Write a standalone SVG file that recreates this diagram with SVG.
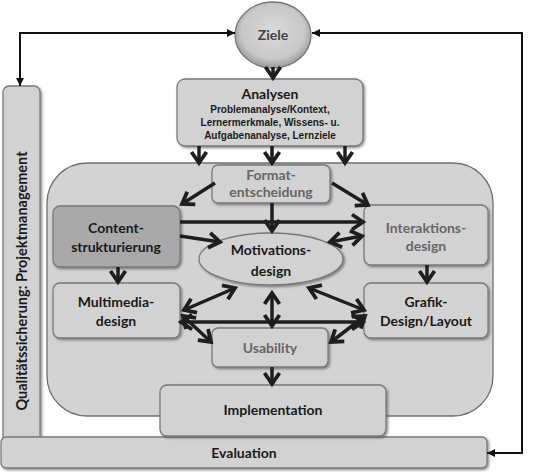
<svg xmlns="http://www.w3.org/2000/svg" width="533" height="472" viewBox="0 0 533 472">
<defs>
<style>
.box{fill:#d2d2d2;stroke:#7a7a7a;stroke-width:1.3;filter:url(#sh)}
.dark{fill:#a9a9a9}
.t{font-family:Lato,"Open Sans","DejaVu Sans",sans-serif;font-weight:bold;font-size:14px;fill:#1a1a1a;text-anchor:middle}
.g{fill:#666}
.s{font-family:"Liberation Sans",Arial,sans-serif;font-weight:bold;font-size:10px;fill:#1a1a1a;text-anchor:middle}
.c{fill:none;stroke:#1e1e1e;stroke-width:3.5;marker-end:url(#ah)}
.d{marker-start:url(#ah)}
.thin{fill:none;stroke:#111;stroke-width:2;marker-start:url(#th);marker-end:url(#th)}
</style>
<filter id="sh" x="-10%" y="-10%" width="125%" height="130%">
<feDropShadow dx="1.5" dy="1.5" stdDeviation="1.2" flood-color="#444" flood-opacity="0.6"/>
</filter>
<radialGradient id="zg" cx="50%" cy="45%" r="55%">
<stop offset="0" stop-color="#dadada"/>
<stop offset="0.75" stop-color="#c8c8c8"/>
<stop offset="1" stop-color="#9a9a9a"/>
</radialGradient>
<marker id="ah" markerUnits="userSpaceOnUse" markerWidth="20" markerHeight="20" refX="14" refY="10" orient="auto-start-reverse">
<path d="M3,2.5 L14,10 L3,17.5" fill="none" stroke="#1e1e1e" stroke-width="3.8" stroke-linejoin="miter"/>
</marker>
<marker id="th" markerUnits="userSpaceOnUse" markerWidth="10" markerHeight="10" refX="8" refY="5" orient="auto-start-reverse">
<path d="M0,1 L8,5 L0,9 Z" fill="#111"/>
</marker>
</defs>
<rect width="533" height="472" fill="#fff"/>

<g id="qualitaet">
<rect class="box" x="3" y="86" width="37" height="356" rx="6"/>
<text class="t" transform="translate(27,281) rotate(-90)" style="font-size:14.5px">Qualitätssicherung: Projektmanagement</text>
</g>
<g id="container">
<rect x="47" y="163" width="446" height="253" rx="40" fill="#d3d3d3" stroke="#707070" stroke-width="1.3"/>
</g>
<g id="evaluation">
<rect class="box" x="1" y="437" width="486" height="31" rx="5"/>
<text class="t" x="244" y="458">Evaluation</text>
</g>
<g id="ziele">
<ellipse cx="273" cy="35" rx="38" ry="33" fill="url(#zg)" stroke="#777" stroke-width="1.3"/>
<text class="t" x="273" y="40" style="fill:#444">Ziele</text>
</g>
<g id="analysen">
<rect class="box" x="177" y="79" width="186" height="67" rx="8"/>
<text class="t" x="270" y="99">Analysen</text>
<text class="s" x="270" y="113">Problemanalyse/Kontext,</text>
<text class="s" x="270" y="126">Lernermerkmale, Wissens- u.</text>
<text class="s" x="270" y="139">Aufgabenanalyse, Lernziele</text>
</g>
<g id="format">
<rect class="box" x="212" y="165" width="118" height="38" rx="6"/>
<text class="t g" x="271" y="180">Format-</text>
<text class="t g" x="271" y="197">entscheidung</text>
</g>
<g id="content">
<rect class="box dark" x="53" y="206" width="127" height="61" rx="7"/>
<text class="t" x="116" y="233">Content-</text>
<text class="t" x="116" y="252">strukturierung</text>
</g>
<g id="interaktion">
<rect class="box" x="364" y="205" width="124" height="60" rx="7"/>
<text class="t g" x="426" y="233">Interaktions-</text>
<text class="t g" x="426" y="251">design</text>
</g>
<g id="motivation">
<ellipse cx="271" cy="259" rx="72" ry="26" fill="#d2d2d2" stroke="#7a7a7a" stroke-width="1.3" filter="url(#sh)"/>
<text class="t" x="271" y="255">Motivations-</text>
<text class="t" x="271" y="276">design</text>
</g>
<g id="multimedia">
<rect class="box" x="53" y="283" width="127" height="55" rx="7"/>
<text class="t" x="116" y="307">Multimedia-</text>
<text class="t" x="116" y="326">design</text>
</g>
<g id="grafik">
<rect class="box" x="364" y="283" width="124" height="55" rx="7"/>
<text class="t" x="426" y="307">Grafik-</text>
<text class="t" x="426" y="326">Design/Layout</text>
</g>
<g id="usability">
<rect class="box" x="212" y="328" width="116" height="39" rx="6"/>
<text class="t g" x="270" y="353">Usability</text>
</g>
<g id="implementation">
<rect class="box" x="160" y="385" width="226" height="51" rx="7"/>
<text class="t" x="273" y="415">Implementation</text>
</g>

<g id="connectors">
<path class="thin" d="M20,86 L20,33 L235,33"/>
<path class="thin" d="M487,453 L522,453 L522,33 L312,33"/>
<path class="c" d="M273,67 L273,78"/>
<path class="c" d="M199,146 L199,163"/>
<path class="c" d="M272,146 L272,163"/>
<path class="c" d="M345,146 L345,163"/>
<path class="c" d="M215,183 L182,204"/>
<path class="c" d="M332,183 L368,205"/>
<path class="c" d="M272,203 L272,231"/>
<path class="c" d="M180,222 L363,222"/>
<path class="c" d="M180,236 L220,242"/>
<path class="c d" d="M362,236 L330,242"/>
<path class="c" d="M118,267 L118,282"/>
<path class="c" d="M427,265 L427,282"/>
<path class="c d" d="M235,288 L184,310"/>
<path class="c d" d="M272,293 L272,326"/>
<path class="c d" d="M309,288 L364,310"/>
<path class="c d" d="M181,322 L363,322"/>
<path class="c d" d="M183,316 L211,342"/>
<path class="c d" d="M365,316 L331,342"/>
<path class="c" d="M272,367 L272,384"/>
</g>
</svg>
